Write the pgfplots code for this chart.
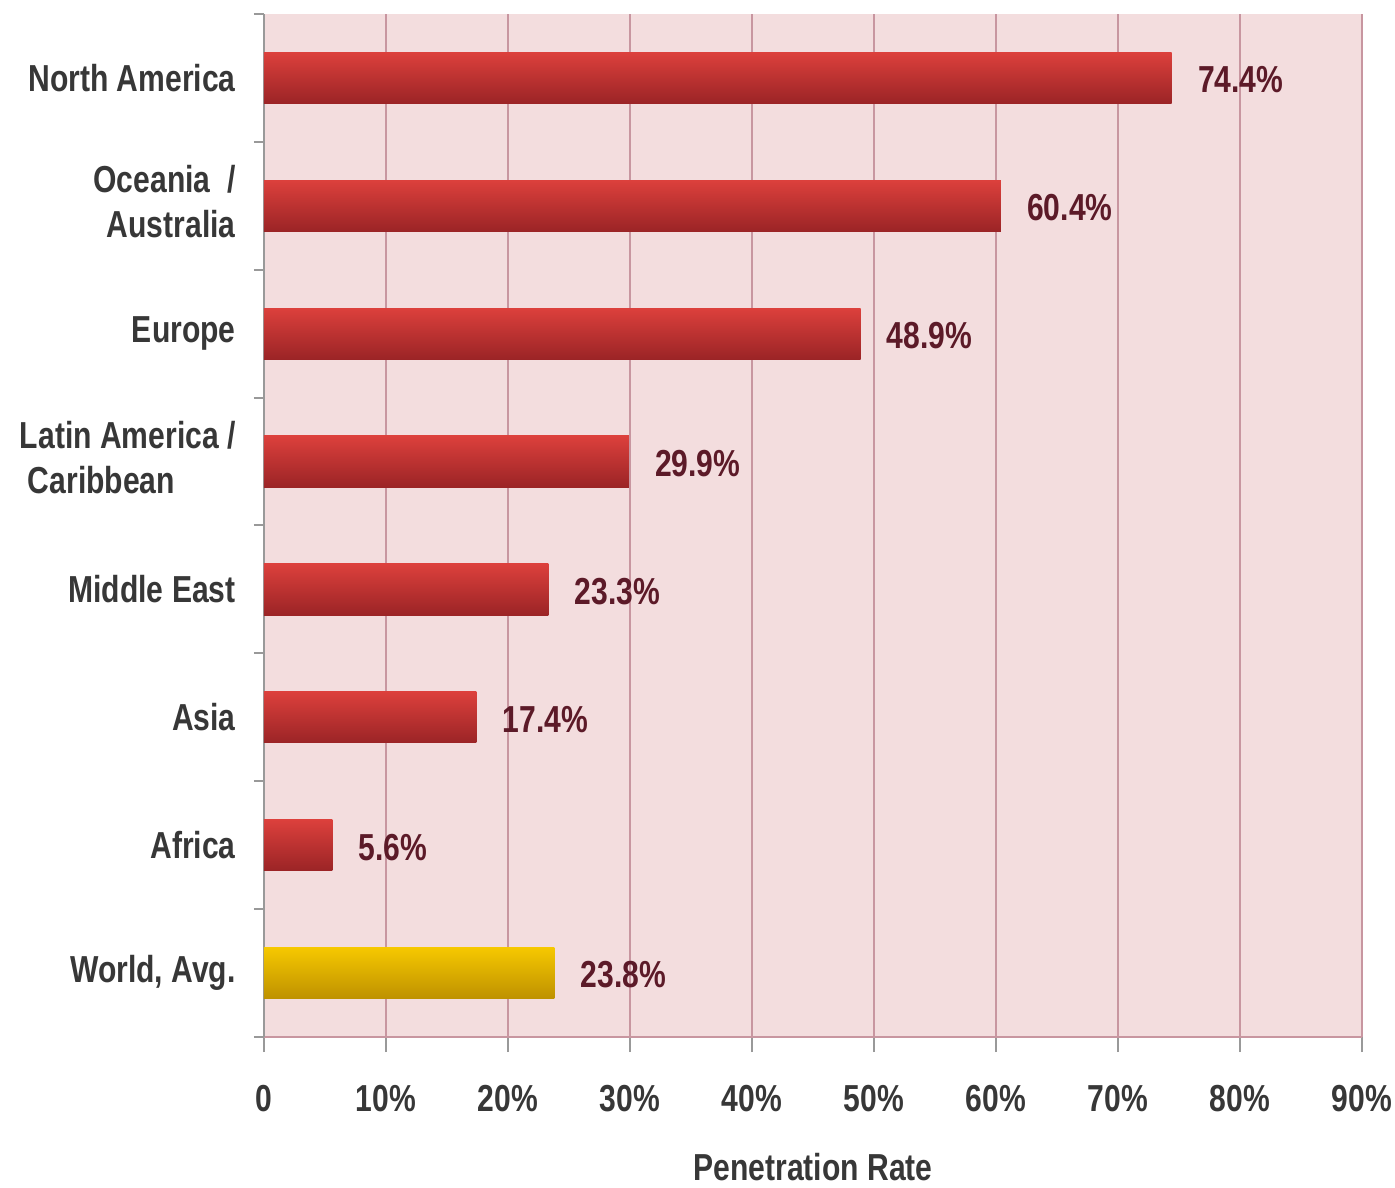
\documentclass[border=0pt]{standalone}
\usepackage{fontspec}
\setmainfont{Liberation Sans}[UprightFont={* Bold}, FakeStretch=0.8]
\usepackage{pgfplots}
\pgfplotsset{compat=1.18}
\definecolor{bgpink}{RGB}{243,221,222}
\definecolor{gridc}{RGB}{200,150,160}
\definecolor{redtop}{RGB}{220,64,60}
\definecolor{redbot}{RGB}{155,36,38}
\definecolor{goldtop}{RGB}{246,200,0}
\definecolor{goldbot}{RGB}{190,145,0}
\definecolor{labc}{RGB}{92,26,40}
\definecolor{txtc}{RGB}{55,55,55}
\pgfplotsset{redbar/.style={draw=none, top color=redtop, bottom color=redbot},
  goldbar/.style={draw=none, top color=goldtop, bottom color=goldbot}}
\begin{document}
\begin{tikzpicture}
\useasboundingbox (-132pt,-75pt) rectangle (565.5pt,518.5pt);
\begin{axis}[
  at={(0pt,0pt)}, anchor=south west,
  scale only axis, width=549pt, height=511.5pt,
  xmin=0, xmax=90, ymin=0.5, ymax=8.5,
  clip=false,
  /pgf/number format/assume math mode=true,
  axis background/.style={fill=bgpink},
  axis x line*=bottom, axis y line*=left,
  x axis line style={draw=gridc, line width=1pt},
  y axis line style={draw=gray!80, line width=1pt},
  xmajorgrids, grid style={draw=gridc, line width=0.8pt},
  xtick={0,10,...,90},
  xticklabels={0,10\%,20\%,30\%,40\%,50\%,60\%,70\%,80\%,90\%},
  ytick={1,...,8},
  yticklabels={{World, Avg.},Africa,Asia,Middle East,{\begin{tabular}{@{}l@{}}Latin America /\\\hspace*{4pt}Caribbean\end{tabular}},Europe,{\begin{tabular}{@{}r@{}}Oceania\ \ /\\Australia\end{tabular}},North America},
  minor ytick={0.5,1.5,...,8.5},
  tick align=outside,
  major tick length=7.5pt, minor tick length=5pt,
  every major y tick/.style={draw=none},
  every minor y tick/.style={draw=gray!80, line width=1pt},
  every major x tick/.style={draw=gray!80, line width=1pt},
  tick label style={font=\fontsize{18.8}{22.5}\selectfont, text=txtc},
  yticklabel style={anchor=east, inner sep=0pt, align=right, xshift=-6.5pt},
  xticklabel style={anchor=north, inner sep=0pt, yshift=-16.5pt},
  xlabel={Penetration Rate},
  xlabel style={font=\fontsize{18.8}{22.5}\selectfont, text=txtc, at={(axis description cs:0.5,0)}, anchor=north, inner sep=0pt, yshift=-58pt},
  point meta=x,
  nodes near coords={\pgfmathprintnumber[fixed,precision=1,fixed zerofill]{\pgfplotspointmeta}\%},
  nodes near coords style={font=\fontsize{18.8}{22.5}\selectfont, text=labc, anchor=west, inner sep=0pt, xshift=13pt, yshift=-1pt},
  xbar, bar width=0.4, bar shift=0pt,
]
\addplot[redbar] coordinates {(74.4,8)};
\addplot[redbar] coordinates {(60.4,7)};
\addplot[redbar] coordinates {(48.9,6)};
\addplot[redbar] coordinates {(29.9,5)};
\addplot[redbar] coordinates {(23.3,4)};
\addplot[redbar] coordinates {(17.4,3)};
\addplot[redbar] coordinates {(5.6,2)};
\addplot[goldbar] coordinates {(23.8,1)};
\end{axis}
\end{tikzpicture}
\end{document}
